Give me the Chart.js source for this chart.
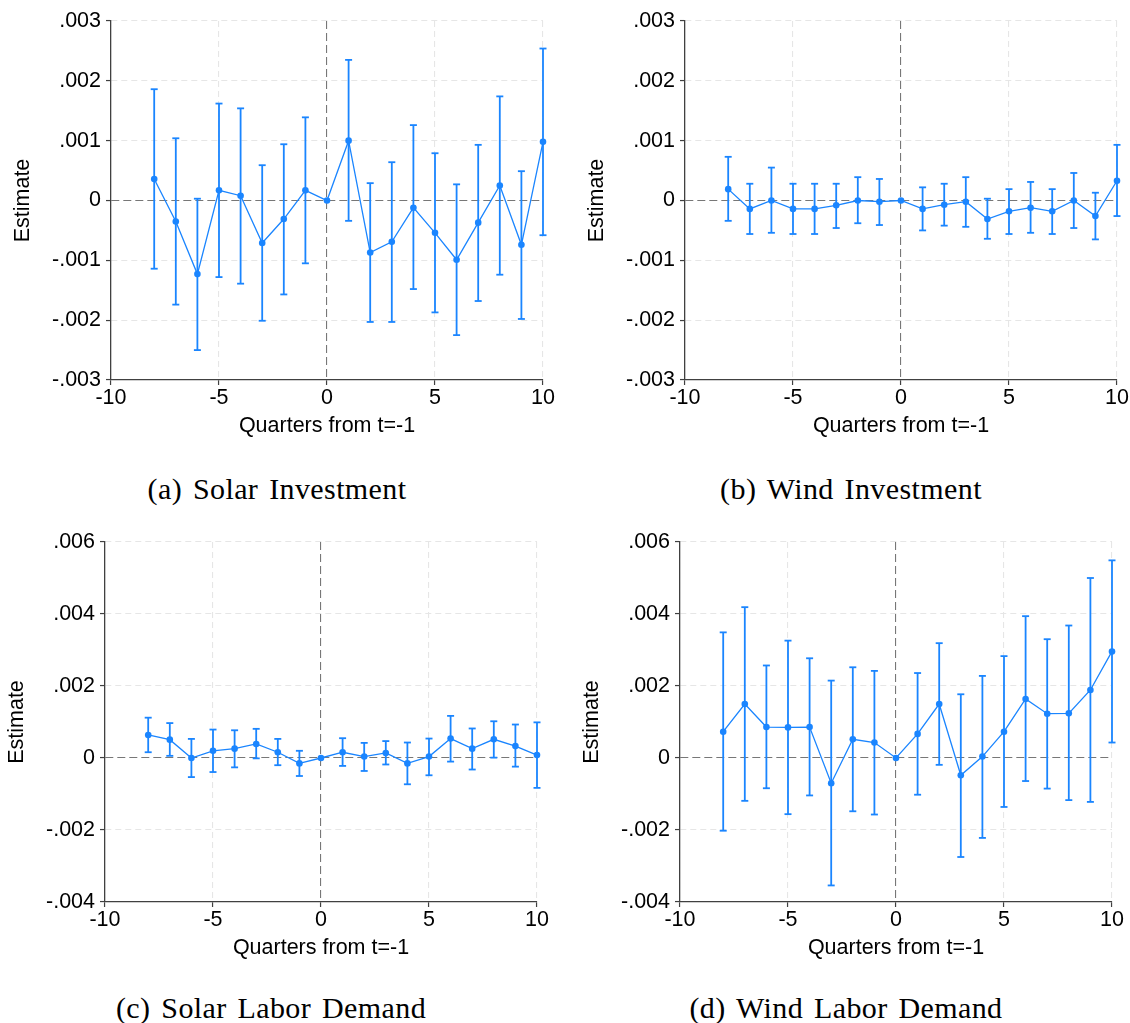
<!DOCTYPE html>
<html>
<head>
<meta charset="utf-8">
<title>Event-study estimates</title>
<script src="https://cdn.jsdelivr.net/npm/chart.js@4.4.1/dist/chart.umd.min.js"></script>
<style>
  html, body { margin: 0; padding: 0; background: #fff; }
  body { position: relative; width: 1130px; height: 1023px; overflow: hidden; }
  canvas { position: absolute; }
  .caption {
    position: absolute;
    width: 400px;
    text-align: center;
    font-family: 'Liberation Serif', 'Times New Roman', serif;
    font-size: 30px;
    line-height: 30px;
    letter-spacing: 0.4px;
    word-spacing: 3px;
    color: #000;
    white-space: nowrap;
  }
</style>
</head>
<body>

<canvas id="solarInv" width="565" height="450" style="left:0;top:0;width:565px;height:450px"></canvas>
<canvas id="windInv" width="565" height="450" style="left:565px;top:0;width:565px;height:450px"></canvas>
<canvas id="solarLabor" width="565" height="452" style="left:0;top:520px;width:565px;height:452px"></canvas>
<canvas id="windLabor" width="565" height="452" style="left:565px;top:520px;width:565px;height:452px"></canvas>

<div class="caption" style="left:77px;top:474px">(a) Solar Investment</div>
<div class="caption" style="left:651px;top:474px">(b) Wind Investment</div>
<div class="caption" style="left:71px;top:993px">(c) Solar Labor Demand</div>
<div class="caption" style="left:646px;top:993px">(d) Wind Labor Demand</div>

<script>
// quarters relative to t=-1 (0 is the omitted reference period)
const quarters = [-8, -7, -6, -5, -4, -3, -2, -1, 0, 1, 2, 3, 4, 5, 6, 7, 8, 9, 10];

const xTicks = [-10, -5, 0, 5, 10];
const investTicks = [-0.003, -0.002, -0.001, 0, 0.001, 0.002, 0.003];
const laborTicks = [-0.004, -0.002, 0, 0.002, 0.004, 0.006];

// (a) solar investment
const solarInvEst = [0.00036, -0.00035, -0.00123, 0.00017, 0.00008, -0.00071, -0.00031, 0.00017, 0,
  0.00100, -0.00087, -0.00069, -0.00012, -0.00054, -0.00099, -0.00037, 0.00025, -0.00074, 0.00098];
const solarInvHi = [0.00186, 0.00104, 0.00003, 0.00162, 0.00154, 0.00059, 0.00094, 0.00139, null,
  0.00235, 0.00029, 0.00064, 0.00126, 0.00079, 0.00027, 0.00093, 0.00174, 0.00049, 0.00254];
const solarInvLo = [-0.00114, -0.00174, -0.00250, -0.00128, -0.00139, -0.00201, -0.00157, -0.00105, null,
  -0.00034, -0.00203, -0.00203, -0.00148, -0.00187, -0.00225, -0.00168, -0.00124, -0.00198, -0.00058];

// (b) wind investment
const windInvEst = [0.00019, -0.00014, 0.00000, -0.00014, -0.00014, -0.00008, 0.00000, -0.00002, 0,
  -0.00014, -0.00007, -0.00002, -0.00031, -0.00018, -0.00012, -0.00018, 0.00000, -0.00026, 0.00033];
const windInvHi = [0.00073, 0.00028, 0.00055, 0.00028, 0.00028, 0.00028, 0.00039, 0.00036, null,
  0.00022, 0.00028, 0.00039, 0.00003, 0.00019, 0.00031, 0.00019, 0.00046, 0.00013, 0.00093];
const windInvLo = [-0.00034, -0.00056, -0.00054, -0.00056, -0.00056, -0.00046, -0.00038, -0.00041, null,
  -0.00050, -0.00042, -0.00044, -0.00064, -0.00056, -0.00054, -0.00056, -0.00046, -0.00065, -0.00026];

// (c) solar labor demand
const solarLabEst = [0.00064, 0.00051, 0.00000, 0.00020, 0.00026, 0.00039, 0.00016, -0.00015, 0,
  0.00016, 0.00004, 0.00014, -0.00015, 0.00004, 0.00054, 0.00026, 0.00052, 0.00033, 0.00008];
const solarLabHi = [0.00112, 0.00097, 0.00053, 0.00079, 0.00077, 0.00081, 0.00053, 0.00020, null,
  0.00055, 0.00042, 0.00047, 0.00043, 0.00054, 0.00117, 0.00082, 0.00102, 0.00093, 0.00099];
const solarLabLo = [0.00016, 0.00006, -0.00053, -0.00039, -0.00026, -0.00001, -0.00020, -0.00050, null,
  -0.00022, -0.00036, -0.00018, -0.00073, -0.00048, -0.00010, -0.00032, 0.00001, -0.00024, -0.00083];

// (d) wind labor demand
const windLabEst = [0.00073, 0.00150, 0.00086, 0.00085, 0.00086, -0.00070, 0.00052, 0.00043, 0,
  0.00067, 0.00150, -0.00048, 0.00004, 0.00073, 0.00164, 0.00123, 0.00124, 0.00189, 0.00296];
const windLabHi = [0.00349, 0.00419, 0.00257, 0.00326, 0.00277, 0.00215, 0.00252, 0.00242, null,
  0.00236, 0.00319, 0.00177, 0.00228, 0.00283, 0.00394, 0.00330, 0.00368, 0.00500, 0.00549];
const windLabLo = [-0.00202, -0.00119, -0.00084, -0.00156, -0.00104, -0.00354, -0.00148, -0.00157, null,
  -0.00102, -0.00019, -0.00275, -0.00222, -0.00136, -0.00064, -0.00085, -0.00117, -0.00122, 0.00043];

const blue = '#1a85ff';
const axisColor = '#404040';

Chart.defaults.font.family = "'Liberation Sans', Arial, Helvetica, sans-serif";
Chart.defaults.font.size = 21.5;
Chart.defaults.color = '#000';

// each interval becomes lo -> hi, then a null point to break the line
function intervalPoints(lo, hi) {
  const pts = [];
  quarters.forEach((q, i) => {
    if (lo[i] === null) return;
    pts.push({ x: q, y: lo[i] }, { x: q, y: hi[i] }, { x: q, y: null });
  });
  return pts;
}

const fixedTicks = values => scale => {
  scale.ticks = values.map(v => ({ value: v }));
};

const isZero = ctx => ctx.tick && Math.abs(ctx.tick.value) < 1e-12;
const gridColor = ctx => isZero(ctx) ? '#777777' : '#e6e6e6';
const gridDash = ctx => isZero(ctx) ? [8, 4] : [6, 4];

const fmtEstimate = v => Math.abs(v) < 1e-12 ? '0' : v.toFixed(3).replace('0.', '.');

function drawPanel(id, est, lo, hi, yTicks, pad) {
  new Chart(document.getElementById(id), {
    type: 'scatter',
    data: {
      datasets: [
        {
          data: quarters.map((q, i) => ({ x: q, y: est[i] })),
          showLine: true,
          clip: false,
          borderColor: blue,
          backgroundColor: blue,
          borderWidth: 1.3,
          pointRadius: 3.3,
          pointBorderWidth: 0,
          order: 0
        },
        {
          data: intervalPoints(lo, hi),
          showLine: true,
          spanGaps: false,
          clip: false,
          borderColor: blue,
          borderWidth: 1.8,
          pointStyle: 'line',
          pointRadius: 3.5,
          pointBorderWidth: 1.8,
          order: 1
        }
      ]
    },
    options: {
      responsive: false,
      animation: false,
      events: [],
      layout: { padding: pad },
      plugins: { legend: { display: false }, tooltip: { enabled: false } },
      scales: {
        x: {
          type: 'linear',
          min: xTicks[0],
          max: xTicks[xTicks.length - 1],
          afterBuildTicks: fixedTicks(xTicks),
          afterFit: s => { s.height = 70; },
          grid: { color: gridColor, lineWidth: 1.1, tickLength: 5, tickColor: axisColor, tickWidth: 1.2 },
          border: { color: axisColor, width: 1.3, dash: gridDash },
          ticks: { padding: 0, maxRotation: 0, color: '#000' },
          title: {
            display: true,
            text: 'Quarters from t=-1',
            color: '#000',
            padding: { top: 0, bottom: 11.5 }
          }
        },
        y: {
          type: 'linear',
          min: yTicks[0],
          max: yTicks[yTicks.length - 1],
          afterBuildTicks: fixedTicks(yTicks),
          afterFit: s => { s.width = 105; },
          grid: { color: gridColor, lineWidth: 1.1, tickLength: 5, tickColor: axisColor, tickWidth: 1.2 },
          border: { color: axisColor, width: 1.3, dash: gridDash },
          ticks: { padding: 5, color: '#000', callback: fmtEstimate },
          title: {
            display: true,
            text: 'Estimate',
            color: '#000',
            padding: { top: 4, bottom: 0 }
          }
        }
      }
    }
  });
}

drawPanel('solarInv', solarInvEst, solarInvLo, solarInvHi, investTicks, { top: 21, right: 22, bottom: 0, left: 6 });
drawPanel('windInv', windInvEst, windInvLo, windInvHi, investTicks, { top: 21, right: 13, bottom: 0, left: 15 });
drawPanel('solarLabor', solarLabEst, solarLabLo, solarLabHi, laborTicks, { top: 22, right: 28, bottom: 0, left: 0 });
drawPanel('windLabor', windLabEst, windLabLo, windLabHi, laborTicks, { top: 22, right: 18, bottom: 0, left: 10 });
</script>
</body>
</html>
